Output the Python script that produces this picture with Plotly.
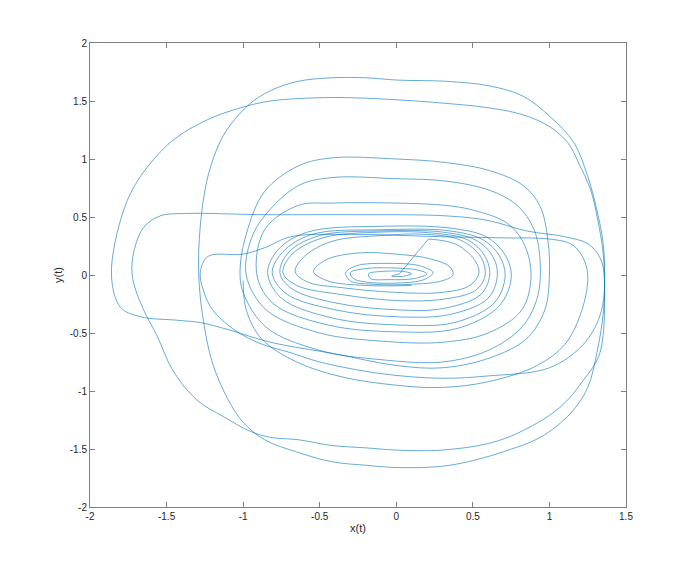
import plotly.graph_objects as go

# ---- data (phase portrait waypoints, data units) ----
inner_x = [0.1, -0.2, -0.45, -0.54, -0.46, -0.25, 0.0, 0.22, 0.35, 0.37, 0.3, 0.1, -0.15, -0.3,
           -0.33, -0.26, -0.05, 0.15, 0.24, 0.18, 0.0, -0.2, -0.28,
           -0.3, -0.2, 0.0, 0.15, 0.2, 0.12, -0.05, -0.17,
           -0.18, -0.1, 0.05, 0.1, 0.05, -0.03, 0.02]
inner_y = [-0.09, -0.09, -0.05, 0.03, 0.13, 0.19, 0.18, 0.14, 0.07, 0.0, -0.05, -0.08, -0.08, -0.05,
           0.02, 0.08, 0.1, 0.08, 0.02, -0.04, -0.07, -0.06, -0.03,
           0.02, 0.055, 0.06, 0.04, 0.01, -0.03, -0.04, -0.03,
           0.01, 0.03, 0.03, 0.01, -0.01, -0.01, 0.01]

jump_x = [0.02, 0.21]
jump_y = [0.01, 0.31]

band_x = [0.21, 0.38, 0.5, 0.54, 0.48, 0.3, 0.0, -0.35, -0.58, -0.66, -0.6, -0.42, -0.1, 0.2,
          0.42, 0.55, 0.58, 0.52, 0.3, 0.0, -0.35, -0.65, -0.74, -0.68, -0.48, -0.1, 0.25,
          0.47, 0.58, 0.61, 0.55, 0.3, 0.0, -0.4, -0.68, -0.76, -0.7, -0.5, -0.1, 0.3,
          0.52, 0.63, 0.66, 0.6, 0.35, 0.0, -0.4, -0.72, -0.81, -0.74, -0.55, -0.1, 0.35,
          0.57, 0.68, 0.71, 0.64, 0.38, 0.0, -0.42, -0.75, -0.84, -0.77, -0.58, -0.1, 0.38,
          0.6, 0.72, 0.75, 0.67, 0.4, 0.0, -0.45, -0.8, -0.91]
band_y = [0.31, 0.27, 0.15, 0.02, -0.09, -0.15, -0.15, -0.11, -0.06, 0.03, 0.16, 0.29, 0.34, 0.35,
          0.3, 0.16, 0.0, -0.13, -0.21, -0.22, -0.17, -0.09, 0.02, 0.18, 0.32, 0.37, 0.36,
          0.3, 0.16, 0.0, -0.17, -0.29, -0.3, -0.24, -0.12, 0.02, 0.2, 0.34, 0.38, 0.37,
          0.3, 0.16, 0.0, -0.2, -0.34, -0.36, -0.3, -0.16, 0.02, 0.2, 0.35, 0.39, 0.38,
          0.3, 0.15, -0.02, -0.24, -0.41, -0.43, -0.37, -0.2, 0.02, 0.22, 0.37, 0.42, 0.4,
          0.32, 0.15, -0.03, -0.27, -0.46, -0.49, -0.43, -0.25, 0.0]

mid_x = [-0.86, -0.64, -0.42, 0.0, 0.32, 0.5, 0.72, 0.83, 0.88, 0.82, 0.6, 0.3, -0.1, -0.5, -0.85, -0.98,
         -0.95, -0.86, -0.64, -0.42, 0.0, 0.32, 0.61, 0.79, 0.9, 0.94, 0.92, 0.82, 0.6, 0.3, -0.1, -0.5, -0.85, -1.0,
         -1.02, -0.98, -0.86, -0.64, -0.42, 0.0, 0.32, 0.61, 0.83, 0.94, 0.99, 1.0, 0.97, 0.85, 0.6, 0.3, 0.0, -0.4]
mid_y = [0.39, 0.6, 0.62, 0.62, 0.6, 0.56, 0.45, 0.28, 0.0, -0.3, -0.5, -0.58, -0.57, -0.5, -0.3, 0.0,
         0.3, 0.51, 0.77, 0.84, 0.83, 0.81, 0.73, 0.6, 0.39, 0.1, -0.2, -0.45, -0.65, -0.75, -0.73, -0.65, -0.45, -0.15,
         0.05, 0.35, 0.72, 0.94, 1.01, 1.0, 0.97, 0.9, 0.77, 0.59, 0.3, 0.0, -0.3, -0.55, -0.72, -0.8, -0.78, -0.68]

outer_x = [-0.82, -1.1, -1.28, -1.43, -1.67, -1.8, -1.86, -1.78, -1.67, -1.46, -1.23, -1.02, -0.82, -0.42,
           0.01, 0.32, 0.61, 0.83, 1.0, 1.12, 1.2, 1.27, 1.31, 1.35, 1.36, 1.35, 1.31, 1.25, 1.14, 0.94,
           0.73, 0.5, 0.29, 0.01, -0.2, -0.42, -0.64, -0.86, -1.0, -1.1, -1.2, -1.26, -1.29, -1.28, -1.23,
           -1.13, -0.97, -0.82, -0.64, -0.42, -0.2, 0.01, 0.32, 0.61, 0.83, 1.0, 1.16, 1.25, 1.31, 1.35,
           1.36, 1.33, 1.22, 1.07, 0.83, 0.61, 0.29, 0.01, -0.2, -0.42, -0.64, -0.82, -0.95, -1.13, -1.3,
           -1.46, -1.56, -1.65, -1.72, -1.72, -1.65, -1.54, -1.39, -0.86, -0.3, 0.32, 0.6, 0.85, 1.1, 1.25,
           1.33, 1.36, 1.33, 1.22, 1.0, 0.6, 0.29, -0.1, -0.5, -0.69, -0.89, -1.06, -1.2, -1.26, -1.28,
           -1.23, -1.0, -0.85, -0.69, -0.3, 0.3, 0.7, 1.0, 1.15, 1.23, 1.25, 1.2, 1.1, 0.92, 0.6, 0.29,
           0.0, -0.35, -0.65, -0.88, -0.98, -1.0]
outer_y = [-0.58, -0.47, -0.41, -0.39, -0.36, -0.28, 0.0, 0.56, 0.85, 1.16, 1.34, 1.44, 1.5, 1.53,
           1.51, 1.48, 1.44, 1.38, 1.28, 1.14, 0.94, 0.73, 0.51, 0.2, -0.1, -0.35, -0.67, -0.97, -1.19, -1.4,
           -1.51, -1.6, -1.65, -1.66, -1.64, -1.61, -1.53, -1.42, -1.27, -1.07, -0.76, -0.39, 0.0, 0.42, 0.85,
           1.2, 1.46, 1.59, 1.67, 1.7, 1.7, 1.68, 1.67, 1.63, 1.54, 1.37, 1.14, 0.85, 0.56, 0.28,
           0.0, -0.67, -0.91, -1.14, -1.34, -1.45, -1.51, -1.51, -1.49, -1.47, -1.42, -1.4, -1.35, -1.22, -1.08,
           -0.82, -0.53, -0.3, -0.04, 0.16, 0.41, 0.51, 0.53, 0.52, 0.52, 0.51, 0.47, 0.38, 0.33, 0.27,
           0.15, -0.05, -0.35, -0.6, -0.8, -0.87, -0.89, -0.85, -0.75, -0.67, -0.59, -0.47, -0.3, -0.13, 0.02,
           0.16, 0.18, 0.24, 0.33, 0.35, 0.33, 0.32, 0.31, 0.26, 0.12, -0.05, -0.35, -0.6, -0.78, -0.92, -0.97,
           -0.95, -0.88, -0.75, -0.55, -0.3, -0.05]

x_ticks = [-2, -1.5, -1, -0.5, 0, 0.5, 1, 1.5]
y_ticks = [-2, -1.5, -1, -0.5, 0, 0.5, 1, 1.5, 2]
x_title = "x(t)"
y_title = "y(t)"

LINE = dict(color="#0072BD", width=0.6)
FONT = "Liberation Sans Narrow, Arial Narrow, Liberation Sans, Arial, sans-serif"
TXT = "#262626"

fig = go.Figure()
fig.add_trace(go.Scatter(x=inner_x, y=inner_y, mode="lines",
                         line=dict(shape="spline", smoothing=1.0, **LINE), hoverinfo="skip"))
fig.add_trace(go.Scatter(x=jump_x, y=jump_y, mode="lines", line=LINE, hoverinfo="skip"))
fig.add_trace(go.Scatter(x=band_x + mid_x + outer_x, y=band_y + mid_y + outer_y, mode="lines",
                         line=dict(shape="spline", smoothing=1.0, **LINE), hoverinfo="skip"))

axis_common = dict(showline=True, mirror="ticks", linecolor="#808080", linewidth=1,
                   ticks="inside", ticklen=5, tickcolor="#808080", showgrid=False, zeroline=False,
                   tickfont=dict(family=FONT, size=10, color=TXT))
fig.update_xaxes(range=[-2, 1.5], tickvals=x_ticks, ticktext=[f"{v:g}" for v in x_ticks],
                 title=dict(text=x_title, font=dict(family=FONT, size=11, color=TXT), standoff=3),
                 **axis_common)
fig.update_yaxes(range=[-2, 2], tickvals=y_ticks, ticktext=[f"{v:g}" for v in y_ticks],
                 title=dict(text=y_title, font=dict(family=FONT, size=11, color=TXT), standoff=4),
                 **axis_common)
# page body adds an 8px offset; margins compensate so the axes box sits where the reference has it
fig.update_layout(width=692, height=569, showlegend=False,
                  margin=dict(l=82, r=74, t=35, b=70, autoexpand=False),
                  paper_bgcolor="white", plot_bgcolor="white")
fig.write_html("out.html")
